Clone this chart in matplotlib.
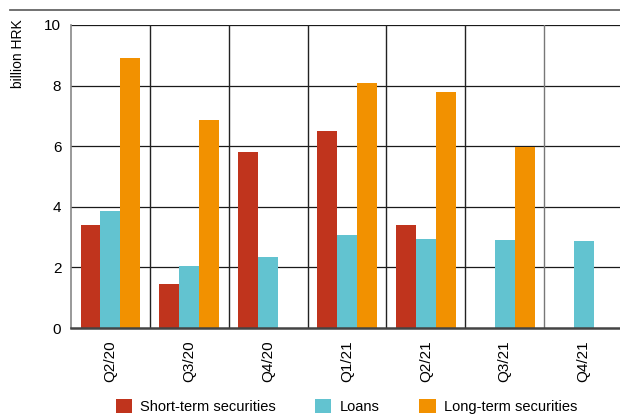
import matplotlib
matplotlib.use("Agg")
import matplotlib.pyplot as plt
from matplotlib.lines import Line2D
from matplotlib.patches import Patch
import numpy as np

plt.rcParams['font.family'] = ['Liberation Sans Narrow', 'Liberation Sans', 'DejaVu Sans']

quarters = ["Q2/20", "Q3/20", "Q4/20", "Q1/21", "Q2/21", "Q3/21", "Q4/21"]
short_term = [3.4, 1.45, 5.8, 6.5, 3.4, 0.0, 0.0]
loans = [3.85, 2.05, 2.35, 3.07, 2.95, 2.92, 2.88]
long_term = [8.9, 6.86, 0.0, 8.09, 7.8, 5.97, 0.0]

series_names = ["Short-term securities", "Loans", "Long-term securities"]
colors = ["#C0341D", "#62C3D0", "#F29100"]

fig = plt.figure(figsize=(6.2, 4.16), dpi=100)
ax = fig.add_axes([71/620, 1 - 328/416, (623 - 71)/620, (328 - 25)/416])

x = np.arange(len(quarters))
w = 0.253
for i, (vals, c) in enumerate(zip([short_term, loans, long_term], colors)):
    ax.bar(x + (i - 1) * w, vals, width=w, color=c, zorder=3, linewidth=0)

ax.set_xlim(-0.5, len(quarters) - 0.5)
ax.set_ylim(0, 10)
ax.set_yticks([0, 2, 4, 6, 8, 10])
ax.set_yticklabels(["0", "2", "4", "6", "8", "10"], fontsize=11)
ax.set_xticks(x)
ax.set_xticklabels(quarters, rotation=90, fontsize=11)
ax.tick_params(axis='both', length=0)
ax.tick_params(axis='y', pad=7)
ax.tick_params(axis='x', pad=9)

for yv in [2, 4, 6, 8, 10]:
    ax.axhline(yv, color="#1a1a1a", linewidth=0.9, zorder=1)
sep_colors = ["#222222", "#222222", "#222222", "#222222", "#222222", "#777777", "#777777"]
for k in range(1, len(quarters) + 1):
    ax.axvline(k - 0.5, color=sep_colors[k - 1], linewidth=1.0, zorder=1)

for s in ["top", "right"]:
    ax.spines[s].set_visible(False)
ax.spines["left"].set_color("#888888")
ax.spines["left"].set_linewidth(1.2)
ax.spines["bottom"].set_color("#444444")
ax.spines["bottom"].set_linewidth(1.8)
ax.spines["bottom"].set_zorder(4)

fig.text(18/620, 1 - 54/416, "billion HRK", rotation=90, ha="center", va="center", fontsize=10)

fig.add_artist(Line2D([10/620, 1.0], [1 - 10/416, 1 - 10/416], color="#666666", linewidth=1.3))

handles = [Patch(facecolor=c, edgecolor="none") for c in colors]
fig.legend(handles, series_names, loc="lower center", bbox_to_anchor=(0.559, -0.026), ncol=3,
           frameon=False, fontsize=10.5, handlelength=1.1, handleheight=1.1, columnspacing=2.7,
           handletextpad=0.6)

fig.savefig("out.png", dpi=100)
